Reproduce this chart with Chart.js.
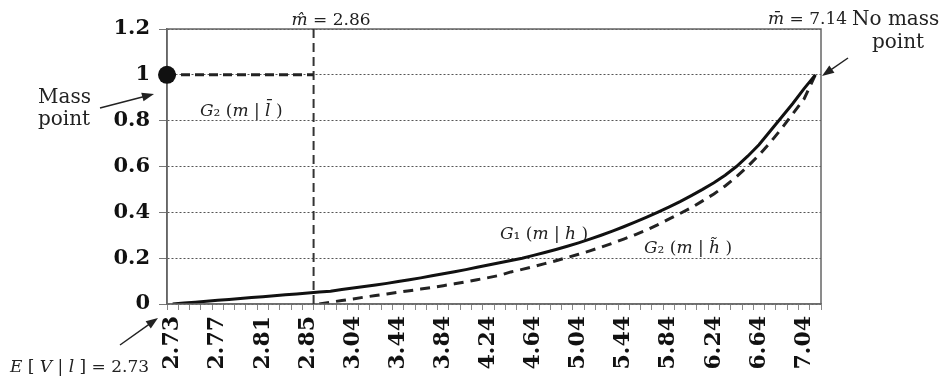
<!DOCTYPE html>
<html>
<head>
<meta charset="utf-8">
<script src="https://cdn.jsdelivr.net/npm/chart.js@4.4.1/dist/chart.umd.min.js"></script>
<style>
  html, body { margin: 0; padding: 0; background: #fff; }
  #wrap { width: 943px; height: 381px; position: relative; }
</style>
</head>
<body>
<div id="wrap"><canvas id="resultPlot"></canvas></div>
<script>
// m grid: steps of 0.01 near E[V|l], then steps of 0.1 up to m-bar
var mValues = ['2.73','2.74','2.75','2.76','2.77','2.78','2.79','2.80','2.81','2.82','2.83','2.84','2.85','2.86','2.87',
    '2.94','3.04','3.14','3.24','3.34','3.44','3.54','3.64','3.74','3.84','3.94','4.04','4.14','4.24','4.34',
    '4.44','4.54','4.64','4.74','4.84','4.94','5.04','5.14','5.24','5.34','5.44','5.54','5.64','5.74','5.84',
    '5.94','6.04','6.14','6.24','6.34','6.44','6.54','6.64','6.74','6.84','6.94','7.04','7.14'];

// G1(m|h), solid
var g1Values = [0, 0.004, 0.008, 0.012, 0.016, 0.02, 0.024, 0.028, 0.032, 0.036, 0.04, 0.044, 0.048, 0.052, 0.056,
    0.063, 0.07, 0.076, 0.083, 0.09, 0.098, 0.106, 0.114, 0.123, 0.132, 0.141, 0.15, 0.16, 0.17, 0.18,
    0.19, 0.2, 0.212, 0.225, 0.238, 0.252, 0.267, 0.283, 0.3, 0.318, 0.337, 0.357, 0.378, 0.4, 0.423,
    0.447, 0.473, 0.5, 0.529, 0.562, 0.6, 0.645, 0.695, 0.755, 0.815, 0.875, 0.94, 1.0];

// G2(m|h~), dashed, starts at m-hat
var g2Values = [null, null, null, null, null, null, null, null, null, null, null, null, null, 0, 0.008,
    0.015, 0.022, 0.03, 0.037, 0.044, 0.051, 0.058, 0.065, 0.072, 0.08, 0.088, 0.097, 0.106, 0.115, 0.125,
    0.14, 0.151, 0.163, 0.176, 0.189, 0.203, 0.217, 0.232, 0.248, 0.265, 0.283, 0.302, 0.322, 0.345, 0.37,
    0.395, 0.42, 0.45, 0.48, 0.515, 0.555, 0.6, 0.65, 0.705, 0.765, 0.83, 0.895, 1.0];

var yMin = 0, yMax = 1.2, yStep = 0.2;
var labelEvery = 4;
var mHat = '2.86';
var massPointValue = 1;

var serif = '"DejaVu Serif", "Liberation Serif", serif';

/**
 * write text made of plain and italic pieces
 */
function richText(ctx, x, y, parts, size){
    let cx = x;
    for (let i = 0; i < parts.length; i++){
        ctx.font = (parts[i][1] ? 'italic ' : '') + size + 'px ' + serif;
        ctx.fillText(parts[i][0], cx, y);
        cx += ctx.measureText(parts[i][0]).width;
    }
}

function arrow(ctx, x1, y1, x2, y2){
    let a = Math.atan2(y2 - y1, x2 - x1);
    ctx.beginPath();
    ctx.moveTo(x1, y1);
    ctx.lineTo(x2 - 8 * Math.cos(a), y2 - 8 * Math.sin(a));
    ctx.stroke();
    ctx.beginPath();
    ctx.moveTo(x2, y2);
    ctx.lineTo(x2 - 12 * Math.cos(a) + 4.5 * Math.sin(a), y2 - 12 * Math.sin(a) - 4.5 * Math.cos(a));
    ctx.lineTo(x2 - 12 * Math.cos(a) - 4.5 * Math.sin(a), y2 - 12 * Math.sin(a) + 4.5 * Math.cos(a));
    ctx.closePath();
    ctx.fill();
}

var annotations = {
    id: 'annotations',
    afterDatasetsDraw: function(chart){
        let ctx = chart.ctx;
        let area = chart.chartArea;
        let xs = chart.scales.x, ys = chart.scales.y;
        let step = xs.getPixelForValue(1) - xs.getPixelForValue(0);
        let hatX = xs.getPixelForValue(mValues.indexOf(mHat)) - step / 2;
        let oneY = ys.getPixelForValue(massPointValue);

        ctx.save();
        // frame
        ctx.strokeStyle = '#666';
        ctx.lineWidth = 1.5;
        ctx.strokeRect(area.left, area.top, area.right - area.left, area.bottom - area.top);

        // m-hat line
        ctx.strokeStyle = '#333';
        ctx.lineWidth = 2;
        ctx.setLineDash([9, 5]);
        ctx.beginPath();
        ctx.moveTo(hatX, area.top);
        ctx.lineTo(hatX, area.bottom + 4);
        ctx.stroke();

        // G2(m|l-bar)
        ctx.strokeStyle = '#222';
        ctx.lineWidth = 3;
        ctx.setLineDash([9, 5]);
        ctx.beginPath();
        ctx.moveTo(area.left, oneY);
        ctx.lineTo(hatX, oneY);
        ctx.stroke();
        ctx.setLineDash([]);

        // mass point
        ctx.fillStyle = '#111';
        ctx.beginPath();
        ctx.arc(area.left, oneY, 9, 0, 2 * Math.PI);
        ctx.fill();

        // texts
        ctx.fillStyle = '#222';
        ctx.textBaseline = 'alphabetic';
        ctx.textAlign = 'left';
        richText(ctx, hatX - 22, area.top - 4, [['m\u0302', true], [' = 2.86', false]], 17);
        richText(ctx, 768, area.top - 5, [['m\u0304', true], [' = 7.14', false]], 17);
        ctx.font = '20px ' + serif;
        ctx.fillText('No mass', 852, 25);
        ctx.fillText('point', 872, 48);
        ctx.fillText('Mass', 38, 103);
        ctx.fillText('point', 38, 125);
        richText(ctx, 200, 116, [['G', true], ['\u2082 (', false], ['m', true], [' | ', false], ['l\u0304', true], [' )', false]], 17);
        richText(ctx, 500, 239, [['G', true], ['\u2081 (', false], ['m', true], [' | ', false], ['h', true], [' )', false]], 17);
        richText(ctx, 644, 253, [['G', true], ['\u2082 (', false], ['m', true], [' | ', false], ['h\u0303', true], [' )', false]], 17);
        richText(ctx, 10, 372, [['E', true], [' [ ', false], ['V', true], [' | ', false], ['l', true], [' ] = 2.73', false]], 17);

        // arrows
        ctx.strokeStyle = '#222';
        ctx.fillStyle = '#222';
        ctx.lineWidth = 1.5;
        arrow(ctx, 100, 108, area.left - 13, 94);
        arrow(ctx, 848, 58, area.right + 1, 76);
        arrow(ctx, 120, 345, area.left - 9, 318);
        ctx.restore();
    }
};

function draw(){
    let plotArea = document.getElementById('resultPlot');
    let chartObject = {};
    chartObject['type'] = 'line';
    chartObject['data'] = {
        labels: mValues,
        datasets: [
            {
                label: 'G1(m|h)',
                data: g1Values,
                borderColor: '#111',
                borderWidth: 3,
                pointRadius: 0,
                tension: 0
            },
            {
                label: 'G2(m|h~)',
                data: g2Values,
                borderColor: '#222',
                borderWidth: 3,
                borderDash: [10, 7],
                pointRadius: 0,
                tension: 0
            }
        ]
    };
    chartObject['options'] = {
        responsive: true,
        maintainAspectRatio: false,
        animation: false,
        layout: {padding: {top: 29, right: 122, left: 0, bottom: 0}},
        plugins: {legend: {display: false}, tooltip: {enabled: false}},
        scales: {
            x: {
                offset: true,
                afterFit: function(scale){ scale.height = 77; },
                grid: {offset: true, drawOnChartArea: false, drawTicks: true, tickLength: 6, color: '#888', tickColor: '#888'},
                border: {color: '#888', width: 1.5},
                ticks: {
                    autoSkip: false,
                    maxRotation: 90,
                    minRotation: 90,
                    padding: 6,
                    color: '#111',
                    font: {family: serif, size: 22, weight: 'bold'},
                    callback: function(value, index){
                        return index % labelEvery === 0 ? this.getLabelForValue(value) : '';
                    }
                }
            },
            y: {
                min: yMin,
                max: yMax,
                afterFit: function(scale){ scale.width = 167; },
                grid: {color: '#555', lineWidth: 1, tickLength: 8, tickColor: '#777', tickBorderDash: []},
                border: {color: '#666', width: 1.5, dash: [2, 2]},
                ticks: {
                    stepSize: yStep,
                    padding: 9,
                    color: '#111',
                    font: {family: serif, size: 21, weight: 'bold'},
                    callback: function(value){
                        return String(Number(value.toFixed(1)));
                    }
                }
            }
        }
    };
    chartObject['plugins'] = [annotations];
    plot = new Chart(plotArea, chartObject);
}

draw();
</script>
</body>
</html>
